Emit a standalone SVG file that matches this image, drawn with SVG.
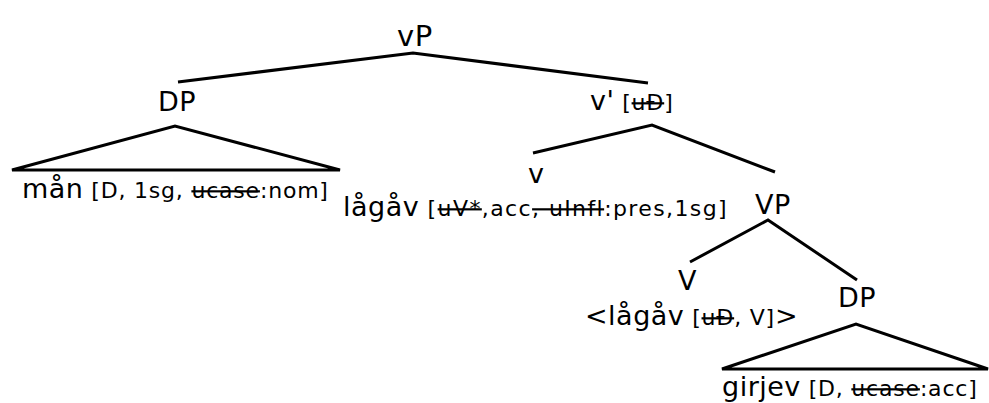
<svg xmlns="http://www.w3.org/2000/svg" width="989" height="403" viewBox="0 0 989 403">
<style>
text{font-family:"DejaVu Sans","Liberation Sans",sans-serif;fill:#000}
.w{font-size:27px;letter-spacing:0.5px}
.f{font-size:22px;letter-spacing:0.8px}
.s{text-decoration:line-through}
.e{fill:none;stroke:#000;stroke-width:3;stroke-linejoin:miter}
</style>
<rect width="989" height="403" fill="#fff"/>
<g id="edges">
<polyline class="e" points="178,82 413,53 648,83"/>
<polygon class="e" points="12,170 175,126 340,170"/>
<polyline class="e" points="533,153 652,125 775,172"/>
<polyline class="e" points="690,262 768,220 857,280"/>
<polygon class="e" points="722,369 856,324 988,369"/>
</g>
<g id="vP"><text class="w" x="397" y="46" style="font-size:29px">vP</text></g>
<g id="DP1"><text class="w" x="158" y="111">DP</text></g>
<g id="vbar"><text x="590" y="110"><tspan class="w">v'</tspan><tspan class="f"> [<tspan class="s">uÐ</tspan>]</tspan></text></g>
<g id="man"><text x="22" y="198"><tspan class="w">mån</tspan><tspan class="f"> [D, 1sg, <tspan class="s">ucase</tspan>:nom]</tspan></text></g>
<g id="v"><text class="w" x="528" y="183">v</text></g>
<g id="lagav"><text x="343" y="216"><tspan class="w">lågåv</tspan><tspan class="f" style="letter-spacing:1.4px"> [<tspan class="s">uV*</tspan>,acc<tspan class="s">, uInfl</tspan>:pres,1sg]</tspan></text></g>
<g id="VP"><text class="w" x="755" y="214">VP</text></g>
<g id="V"><text class="w" x="678" y="290">V</text></g>
<g id="lagav2"><text x="585" y="325"><tspan class="w">&lt;lågåv</tspan><tspan class="f"> [<tspan class="s">uÐ</tspan>, V]</tspan><tspan class="w">&gt;</tspan></text></g>
<g id="DP2"><text class="w" x="838" y="307">DP</text></g>
<g id="girjev"><text x="722" y="396"><tspan class="w">girjev</tspan><tspan class="f"> [D, <tspan class="s">ucase</tspan>:acc]</tspan></text></g>
</svg>
